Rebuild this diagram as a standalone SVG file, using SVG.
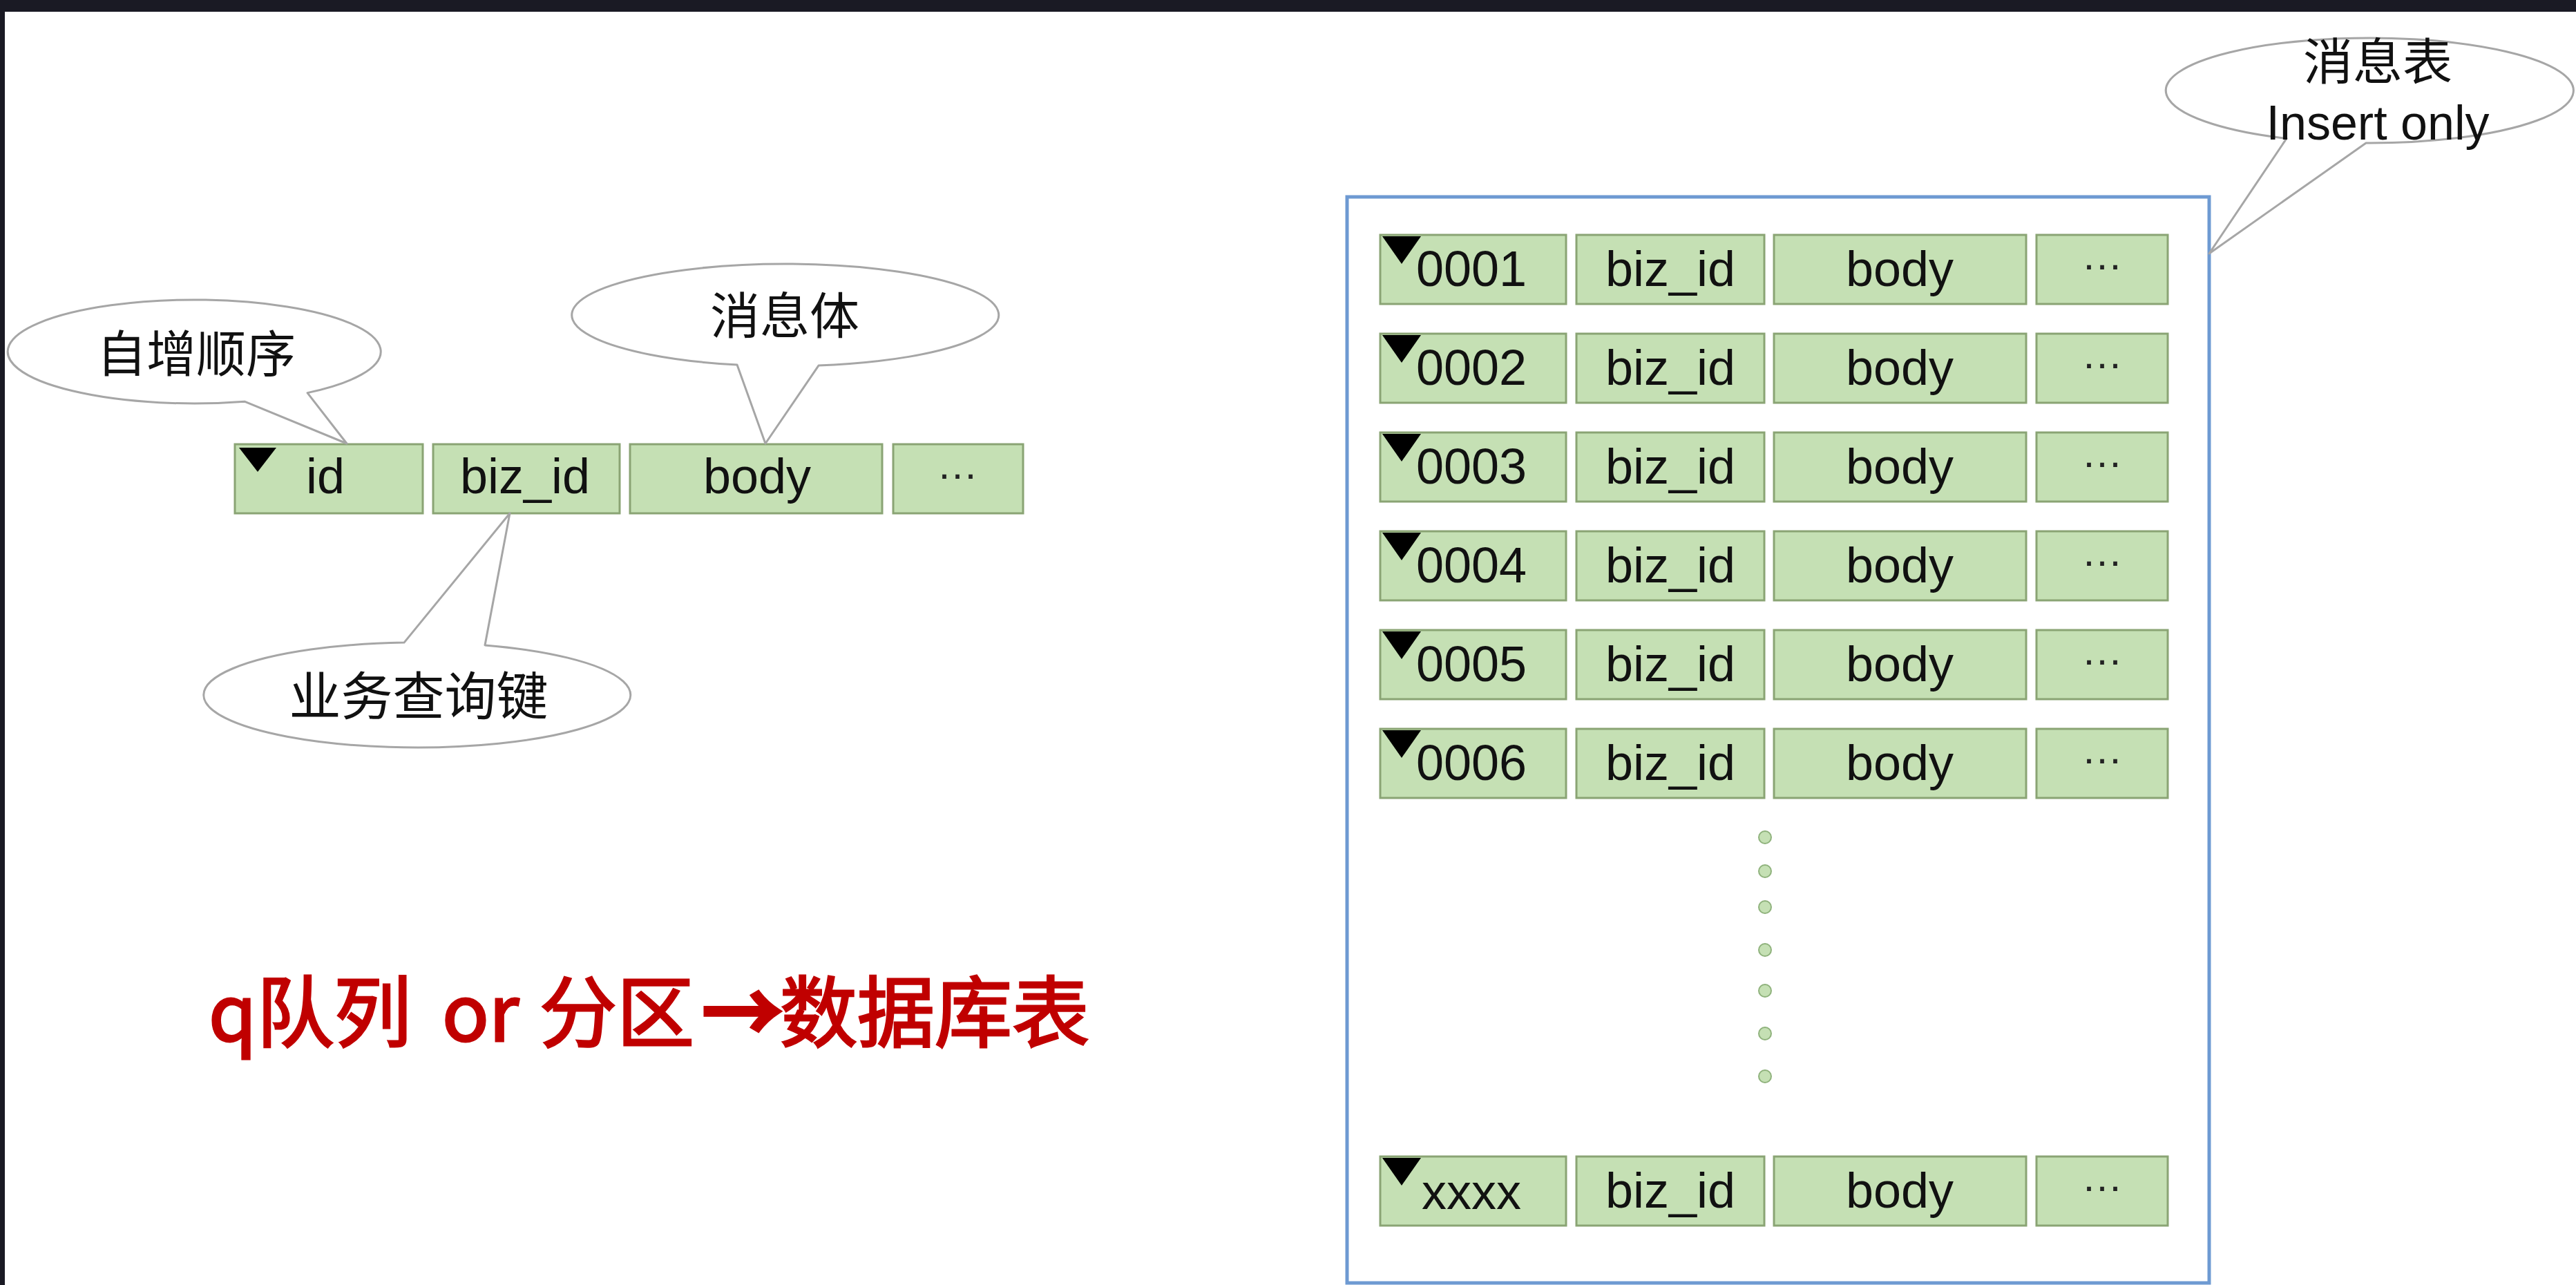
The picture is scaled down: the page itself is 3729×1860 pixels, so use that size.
<svg xmlns="http://www.w3.org/2000/svg" width="3729" height="1860" viewBox="0 0 3729 1860">
<style>
.cell{fill:#c5e0b4;stroke:#8aa474;stroke-width:3}
.tri{fill:#000}
.t{font-family:"Liberation Sans","Noto Sans CJK SC",sans-serif;font-size:72px;fill:#111;text-anchor:middle}
.cj{font-family:"Noto Sans CJK SC","Liberation Sans",sans-serif;font-size:72px;fill:#111;text-anchor:middle}
.dots{font-family:"Liberation Sans",sans-serif;font-size:60px;fill:#222;text-anchor:middle}
.call{fill:#fff;stroke:#a6a6a6;stroke-width:3;stroke-linejoin:round}
.dot{fill:#c5e0b4;stroke:#8fb27c;stroke-width:2}
.title{font-family:"Noto Sans CJK SC","Liberation Sans",sans-serif;font-size:112px;font-weight:normal;fill:#c00000;stroke:#c00000;stroke-width:3}
</style>
<defs>
<g id="row">
<rect class="cell" x="1998" y="0" width="269" height="100"/>
<rect class="cell" x="2282" y="0" width="272" height="100"/>
<rect class="cell" x="2568" y="0" width="365" height="100"/>
<rect class="cell" x="2948" y="0" width="190" height="100"/>
<polygon class="tri" points="2001,2 2057,2 2029,42"/>
<text class="t" x="2418" y="74">biz_id</text>
<text class="t" x="2750" y="74">body</text>
<text class="dots" x="3043" y="50">…</text>
</g>
</defs>
<rect x="0" y="0" width="3729" height="1860" fill="#fff"/>
<rect x="0" y="0" width="3729" height="17" fill="#1a1a24"/>
<rect x="0" y="0" width="7" height="1860" fill="#1a1a24"/>

<g id="connectors"></g>

<g id="left-table">
<rect class="cell" x="340" y="643" width="272" height="100"/>
<rect class="cell" x="627" y="643" width="270" height="100"/>
<rect class="cell" x="912" y="643" width="365" height="100"/>
<rect class="cell" x="1293" y="643" width="188" height="100"/>
<polygon class="tri" points="346,648 400,648 373,683"/>
<text class="t" x="471" y="714">id</text>
<text class="t" x="760" y="714">biz_id</text>
<text class="t" x="1096" y="714">body</text>
<text class="dots" x="1386" y="693">…</text>
</g>

<g id="callout-autoinc">
<path class="call" d="M445,568.6 L502,642 L354,581.2 A270,75 0 1 1 445,568.6 Z"/>
<text class="cj" x="284" y="538">自增顺序</text>
</g>

<g id="callout-body">
<path class="call" d="M1185,529.1 L1108,642 L1067,528.1 A309,74 0 1 1 1185,529.1 Z"/>
<text class="cj" x="1136" y="483">消息体</text>
</g>

<g id="callout-bizkey">
<path class="call" d="M585,930.1 L738,743 L702,933.9 A309,76 0 1 1 585,930.1 Z"/>
<text class="cj" x="606" y="1035" style="font-size:75px">业务查询键</text>
</g>

<g id="title">
<text class="title" y="1507"><tspan x="302">q队列</tspan><tspan x="640">or</tspan><tspan x="781">分区</tspan><tspan x="1018" style="stroke-width:8">→</tspan><tspan x="1129">数据库表</tspan></text>
</g>

<g id="message-table">
<rect x="1950" y="285" width="1248" height="1572" fill="#fff" stroke="#6e9ad2" stroke-width="5"/>
<g id="row-0001" transform="translate(0,340)"><use href="#row"/><text class="t" x="2130" y="74">0001</text></g>
<g id="row-0002" transform="translate(0,483)"><use href="#row"/><text class="t" x="2130" y="74">0002</text></g>
<g id="row-0003" transform="translate(0,626)"><use href="#row"/><text class="t" x="2130" y="74">0003</text></g>
<g id="row-0004" transform="translate(0,769)"><use href="#row"/><text class="t" x="2130" y="74">0004</text></g>
<g id="row-0005" transform="translate(0,912)"><use href="#row"/><text class="t" x="2130" y="74">0005</text></g>
<g id="row-0006" transform="translate(0,1055)"><use href="#row"/><text class="t" x="2130" y="74">0006</text></g>
<g id="ellipsis-dots">
<circle class="dot" cx="2555" cy="1212" r="9"/>
<circle class="dot" cx="2555" cy="1261" r="9"/>
<circle class="dot" cx="2555" cy="1313" r="9"/>
<circle class="dot" cx="2555" cy="1375" r="9"/>
<circle class="dot" cx="2555" cy="1434" r="9"/>
<circle class="dot" cx="2555" cy="1496" r="9"/>
<circle class="dot" cx="2555" cy="1558" r="9"/>
</g>
<g id="row-xxxx" transform="translate(0,1674)"><use href="#row"/><text class="t" x="2130" y="76">xxxx</text></g>
</g>

<g id="callout-table">
<path class="call" d="M3425,207 L3198,367 L3310,200.4 A295,76 0 1 1 3425,207 Z"/>
<text class="cj" x="3442" y="115">消息表</text>
<text class="t" x="3442" y="202" style="font-size:70px">Insert only</text>
</g>
</svg>
